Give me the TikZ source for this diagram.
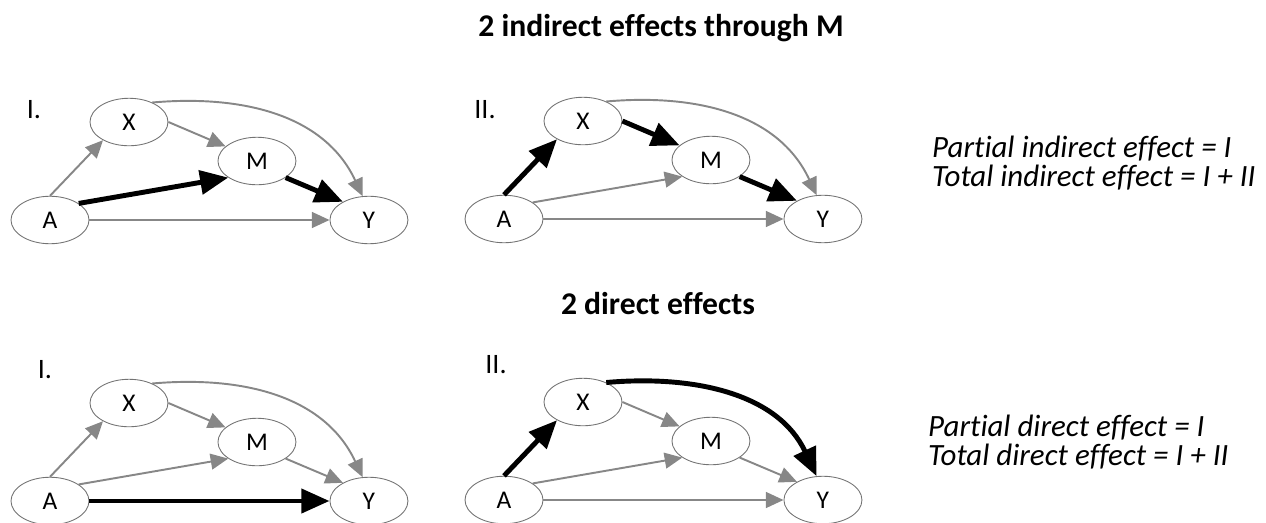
\documentclass[tikz,border=0pt]{standalone}
\usepackage{fontspec}
\setmainfont{Carlito}[Ligatures=CommonOff]
\usetikzlibrary{shapes.geometric}
\usetikzlibrary{arrows.meta}
\usetikzlibrary{positioning}

\tikzset{
  var/.style={draw=ellgray, line width=0.5pt, ellipse, minimum width=1.56cm, minimum height=0.95cm, inner sep=0pt, on grid, font=\fontsize{14.5}{17}\selectfont},
  weak/.style={draw=arrgray, line width=1.1pt, -{Triangle[length=10pt,width=9pt]}},
  strong/.style={draw=black, line width=2.8pt, -{Triangle[length=16pt,width=13.5pt]}},
  panel/.style={font=\fontsize{16}{19}\selectfont},
  head/.style={font=\bfseries\fontsize{18}{22}\selectfont, anchor=base},
  note/.style={font=\itshape\fontsize{17.6}{21}\selectfont, anchor=base west},
}

\begin{document}
\begin{tikzpicture}[x=0.02cm, y=0.02cm]
    \definecolor{arrgray}{rgb}{0.53,0.53,0.53}
    \definecolor{ellgray}{rgb}{0.45,0.45,0.45}
    \useasboundingbox (0,0) rectangle (1266,-523);

    \node[head] (title1) at (661,-37) {2 indirect effects through M};
    \node[head] (title2) at (658,-314) {2 direct effects};

    \node[panel] (lab1) at (34,-110) {I.};
    \node[panel] (lab2) at (485,-110) {II.};
    \node[panel] (lab3) at (45,-370) {I.};
    \node[panel] (lab4) at (496,-365) {II.};

    \node[var] (A1) at (50,-220) {A};
    \node[var, above right=1.96cm and 1.58cm of A1] (X1) {X};
    \node[var, above right=1.18cm and 4.14cm of A1] (M1) {M};
    \node[var, right=6.38cm of A1] (Y1) {Y};

    \node[var] (A2) at (504,-219) {A};
    \node[var, above right=1.96cm and 1.58cm of A2] (X2) {X};
    \node[var, above right=1.18cm and 4.14cm of A2] (M2) {M};
    \node[var, right=6.38cm of A2] (Y2) {Y};

    \node[var] (A3) at (50,-501) {A};
    \node[var, above right=1.96cm and 1.58cm of A3] (X3) {X};
    \node[var, above right=1.18cm and 4.14cm of A3] (M3) {M};
    \node[var, right=6.38cm of A3] (Y3) {Y};

    \node[var] (A4) at (504,-500) {A};
    \node[var, above right=1.96cm and 1.58cm of A4] (X4) {X};
    \node[var, above right=1.18cm and 4.14cm of A4] (M4) {M};
    \node[var, right=6.38cm of A4] (Y4) {Y};

    \draw[weak] (A1.north) -- (X1.215);
    \draw[weak] (X1.east) -- (M1.155);
    \draw[strong] (A1.30) -- (M1.210);
    \draw[strong] (M1.330) -- (Y1.145);
    \draw[weak] (A1) -- (Y1);
    \draw[weak] (X1.40) to[out=5,in=115] (Y1.105);

    \draw[strong] (A2.north) -- (X2.215);
    \draw[strong] (X2.east) -- (M2.155);
    \draw[weak] (A2.30) -- (M2.210);
    \draw[strong] (M2.330) -- (Y2.145);
    \draw[weak] (A2) -- (Y2);
    \draw[weak] (X2.40) to[out=5,in=115] (Y2.105);

    \draw[weak] (A3.north) -- (X3.215);
    \draw[weak] (X3.east) -- (M3.155);
    \draw[weak] (A3.30) -- (M3.210);
    \draw[weak] (M3.330) -- (Y3.145);
    \draw[strong] (A3) -- (Y3);
    \draw[weak] (X3.40) to[out=5,in=115] (Y3.105);

    \draw[strong] (A4.north) -- (X4.215);
    \draw[weak] (X4.east) -- (M4.155);
    \draw[weak] (A4.30) -- (M4.210);
    \draw[weak] (M4.330) -- (Y4.145);
    \draw[weak] (A4) -- (Y4);
    \draw[strong] (X4.40) to[out=5,in=115] (Y4.105);

    \node[note] (part1) at (926,-158) {Partial indirect effect = I};
    \node[note, below=0.58cm of part1.base west, anchor=base west] (tot1) {Total indirect effect = I + II};
    \node[note] (part2) at (922,-436) {Partial direct effect = I};
    \node[note, below=0.6cm of part2.base west, anchor=base west] (tot2) {Total direct effect = I + II};
\end{tikzpicture}
\end{document}
